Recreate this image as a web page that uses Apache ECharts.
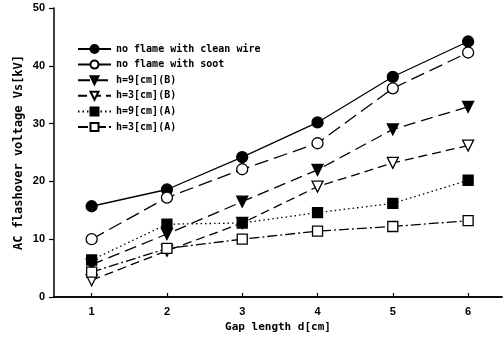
<!DOCTYPE html>
<html>
<head>
<meta charset="utf-8">
<script src="https://cdn.jsdelivr.net/npm/echarts@6/dist/echarts.min.js"></script>
<style>
    html, body { margin: 0; padding: 0; background: #fff; }
    #chart { width: 503px; height: 347px; }
</style>
</head>
<body>
<div id="chart"></div>
<script>
'use strict';

// gap length d[cm]
var gaps = [1, 2, 3, 4, 5, 6];
var xTicks = [1, 2, 3, 4, 5, 6];

// flashover voltage Vs[kV]
var cleanWire = [15.7, 18.6, 24.2, 30.2, 38.1, 44.2];
var withSoot  = [10.0, 17.2, 22.1, 26.6, 36.1, 42.3];
var h9B       = [5.6, 10.9, 16.5, 22.0, 29.0, 32.9];
var h3B       = [2.9, 8.0, 12.8, 19.1, 23.2, 26.2];
var h9A       = [6.4, 12.6, 12.8, 14.6, 16.2, 20.2];
var h3A       = [4.3, 8.4, 10.0, 11.4, 12.2, 13.2];

var seriesNames = [
    'no flame with clean wire',
    'no flame with soot',
    'h=9[cm](B)',
    'h=3[cm](B)',
    'h=9[cm](A)',
    'h=3[cm](A)'
];

(function (echarts) {

    var font = 'DejaVu Sans Mono';

    function pairs(values) {
        return values.map(function (v, i) { return [gaps[i], v]; });
    }

    function makeSeries(name, values, symbol, filled, dash, size, rotate) {
        return {
            name: name,
            type: 'line',
            data: pairs(values),
            symbol: symbol,
            symbolSize: size,
            symbolRotate: rotate || 0,
            showAllSymbol: true,
            animation: false,
            lineStyle: { color: '#000', width: 1.3, type: dash },
            itemStyle: {
                color: filled ? '#000' : '#fff',
                borderColor: '#000',
                borderWidth: 1.3
            }
        };
    }

    var chart = echarts.init(document.getElementById('chart'));

    chart.setOption({
        backgroundColor: '#fff',
        grid: { left: 54, right: 1, top: 8, bottom: 50 },
        legend: {
            left: 72,
            top: 39,
            orient: 'vertical',
            itemWidth: 33,
            itemHeight: 10,
            itemGap: 5.6,
            data: seriesNames,
            textStyle: { fontFamily: font, fontSize: 10, fontWeight: 'bold', color: '#000' }
        },
        xAxis: [{
            type: 'value',
            min: 0.5,
            max: 6.45,
            name: 'Gap length d[cm]',
            nameLocation: 'middle',
            nameGap: 25,
            nameTextStyle: { fontFamily: font, fontSize: 11, fontWeight: 'bold', color: '#000' },
            axisLine: { show: true, onZero: false, lineStyle: { color: '#000', width: 1.5 } },
            axisTick: { show: true, inside: true, length: 4, customValues: xTicks, lineStyle: { color: '#000', width: 1.2 } },
            axisLabel: {
                customValues: xTicks,
                margin: 9,
                fontFamily: 'Liberation Sans',
                fontSize: 11,
                fontWeight: 'bold',
                color: '#000'
            },
            splitLine: { show: false }
        }, {
            type: 'value',
            position: 'top',
            min: 0.5,
            max: 6.45,
            axisLine: { show: true, lineStyle: { color: '#000', width: 1.5 } },
            axisTick: { show: false },
            axisLabel: { show: false },
            splitLine: { show: false }
        }],
        yAxis: {
            type: 'value',
            min: 0,
            max: 50,
            interval: 10,
            name: 'AC flashover voltage Vs[kV]',
            nameLocation: 'middle',
            nameGap: 29,
            nameMoveOverlap: false,
            nameTextStyle: { fontFamily: font, fontSize: 12, fontWeight: 'bold', color: '#000' },
            axisLine: { show: true, lineStyle: { color: '#000', width: 1.5 } },
            axisTick: { show: true, length: 5, lineStyle: { color: '#000', width: 1.2 } },
            axisLabel: {
                margin: 9,
                fontFamily: 'Liberation Sans',
                fontSize: 11,
                fontWeight: 'bold',
                color: '#000'
            },
            splitLine: { show: false }
        },
        series: [
            makeSeries(seriesNames[0], cleanWire, 'circle', true, 'solid', 11),
            makeSeries(seriesNames[1], withSoot, 'circle', false, [14, 6], 11),
            makeSeries(seriesNames[2], h9B, 'triangle', true, [12, 6], 11, 180),
            makeSeries(seriesNames[3], h3B, 'triangle', false, [9, 5], 11, 180),
            makeSeries(seriesNames[4], h9A, 'rect', true, [1.5, 3], 10),
            makeSeries(seriesNames[5], h3A, 'rect', false, [10, 3, 2, 3], 10)
        ]
    });

})(echarts);
</script>
</body>
</html>
